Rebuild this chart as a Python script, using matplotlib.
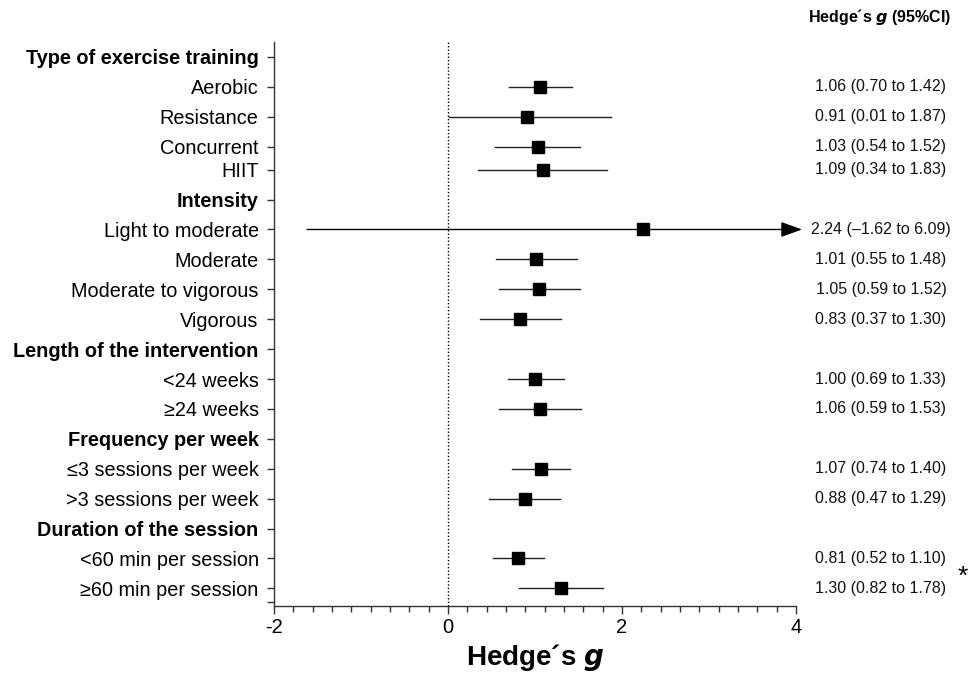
import matplotlib.pyplot as plt
import matplotlib.transforms as mtransforms
import numpy as np
from matplotlib.ticker import AutoMinorLocator

plt.rcParams['font.family'] = ['Liberation Sans', 'DejaVu Sans']

labels = ["Type of exercise training", "Aerobic", "Resistance", "Concurrent", "HIIT",
          "Intensity", "Light to moderate", "Moderate", "Moderate to vigorous", "Vigorous",
          "Length of the intervention", "<24 weeks", "≥24 weeks",
          "Frequency per week", "≤3 sessions per week", ">3 sessions per week",
          "Duration of the session", "<60 min per session", "≥60 min per session"]
header = [1, 0, 0, 0, 0, 1, 0, 0, 0, 0, 1, 0, 0, 1, 0, 0, 1, 0, 0]
est = [np.nan, 1.06, 0.91, 1.03, 1.09, np.nan, 2.24, 1.01, 1.05, 0.83,
       np.nan, 1.00, 1.06, np.nan, 1.07, 0.88, np.nan, 0.81, 1.30]
lo = [np.nan, 0.70, 0.01, 0.54, 0.34, np.nan, -1.62, 0.55, 0.59, 0.37,
      np.nan, 0.69, 0.59, np.nan, 0.74, 0.47, np.nan, 0.52, 0.82]
hi = [np.nan, 1.42, 1.87, 1.52, 1.83, np.nan, 6.09, 1.48, 1.52, 1.30,
      np.nan, 1.33, 1.53, np.nan, 1.40, 1.29, np.nan, 1.10, 1.78]

n = len(labels)
idx = np.arange(n)
# HIIT row sits closer to Concurrent in the original
ypos = idx - 0.23 * (idx >= 4)

fig = plt.figure(figsize=(9.7, 6.74), dpi=100)
ax = fig.add_axes([0.2825, 0.1009, 0.5381, 0.8368])
trans = mtransforms.blended_transform_factory(fig.transFigure, ax.transData)

xmin, xmax = -2, 4
ax.axvline(0, color='black', lw=1, ls=(0, (1, 1.5)), zorder=1)

for i in range(n):
    if header[i]:
        continue
    y = ypos[i]
    if hi[i] > xmax:
        ax.annotate("", xy=(4.07, y), xytext=(lo[i], y), annotation_clip=False,
                    arrowprops=dict(arrowstyle='-|>,head_length=1.0,head_width=0.36',
                                    mutation_scale=13, color='black', lw=1,
                                    shrinkA=0, shrinkB=0))
    else:
        ax.plot([lo[i], hi[i]], [y, y], color='#222222', lw=1, zorder=2)
    ax.plot(est[i], y, marker='s', ms=9, color='black', zorder=3)
    txt = f"{est[i]:.2f} ({lo[i]:.2f} to {hi[i]:.2f})".replace('-', '–')
    ax.text(881 / 970, y, txt, transform=trans, ha='center', va='center',
            fontsize=11.5, color='#111111')

ax.text(963 / 970, (ypos[-2] + ypos[-1]) / 2 + 0.1, "*", fontsize=19,
        transform=trans, ha='center', va='center')
fig.text(880 / 970, 1 - 17 / 674, "Hedge´s $\\bfit{g}$ (95%CI)", fontsize=11.5,
         fontweight='bold', ha='center', va='center')

ax.set_xlim(xmin, xmax)
ax.set_ylim(18.36, -0.5)
ax.set_xticks([-2, 0, 2, 4])
ax.set_xticklabels(["-2", "0", "2", "4"])
ax.xaxis.set_minor_locator(AutoMinorLocator(9))
ax.set_yticks(list(ypos) + [18.23])
ax.set_yticklabels(labels + [""])
for lab, h in zip(ax.get_yticklabels(), header + [0]):
    if h:
        lab.set_fontweight('bold')

ax.tick_params(axis='y', length=5, width=1, pad=6, labelsize=14.3, color='#333333')
ax.tick_params(axis='x', which='major', length=6, width=1, labelsize=14.5, pad=3, color='#333333')
ax.tick_params(axis='x', which='minor', length=4, width=1, color='#333333')

for s in ['top', 'right']:
    ax.spines[s].set_visible(False)
for s in ['left', 'bottom']:
    ax.spines[s].set_color('#333333')
    ax.spines[s].set_linewidth(1)

ax.set_xlabel("Hedge´s $\\bfit{g}$", fontsize=20, fontweight='bold', labelpad=3)

fig.savefig("out.png", dpi=100)
